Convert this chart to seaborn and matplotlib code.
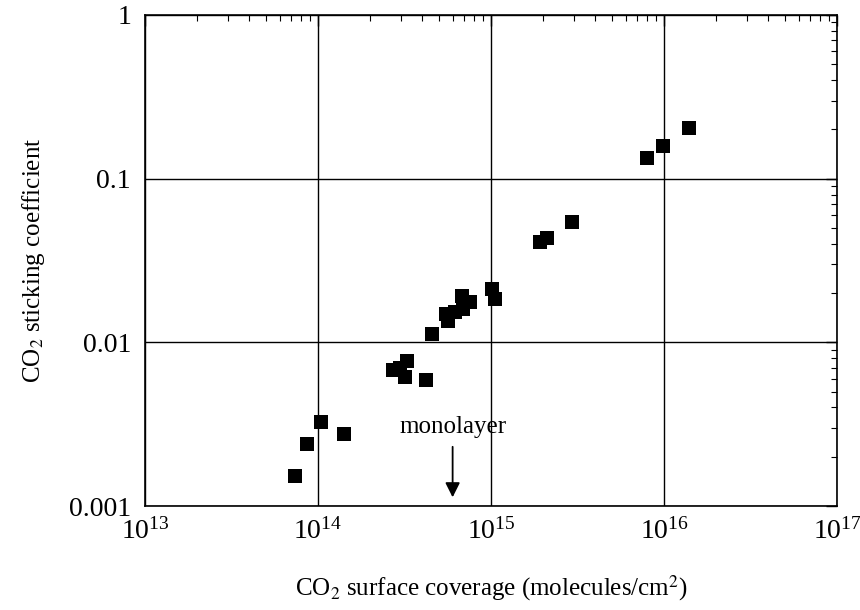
import numpy as np
import pandas as pd
import matplotlib
matplotlib.use("Agg")
import matplotlib.pyplot as plt
import matplotlib.ticker as mticker
import seaborn as sns

coverage = [7.4e13, 8.6e13, 1.04e14, 1.41e14,
            2.72e14, 2.98e14, 3.27e14, 3.18e14, 4.21e14,
            4.56e14, 5.64e14, 5.5e14, 6.2e14, 6.8e14, 7.56e14, 6.9e14,
            1.01e15, 1.05e15,
            1.92e15, 2.11e15, 2.94e15,
            7.98e15, 9.87e15, 1.40e16]
sticking = [1.53e-3, 2.4e-3, 3.27e-3, 2.77e-3,
            6.73e-3, 7.0e-3, 7.64e-3, 6.18e-3, 5.85e-3,
            0.0112, 0.0135, 0.0149, 0.0153, 0.0191, 0.0176, 0.0160,
            0.0211, 0.0184,
            0.041, 0.0435, 0.0545,
            0.1346, 0.159, 0.203]
y_ticks = [0.001, 0.01, 0.1, 1]
y_labels = ["0.001", "0.01", "0.1", "1"]
x_ticks = [1e13, 1e14, 1e15, 1e16, 1e17]
monolayer_x = 6e14

sns.set_style("white")
plt.rcParams["font.family"] = ["Liberation Serif", "DejaVu Serif"]
plt.rcParams["mathtext.fontset"] = "stix"
plt.rcParams["text.color"] = "black"
plt.rcParams["axes.labelcolor"] = "black"

df = pd.DataFrame({"coverage": coverage, "sticking": sticking})

fig = plt.figure(figsize=(8.6, 6.1), dpi=100)
ax = fig.add_axes([145/860, 1-506/610, (837-145)/860, (506-15)/610])
sns.scatterplot(data=df, x="coverage", y="sticking", marker="s", s=95,
                color="black", edgecolor="black", linewidth=0, ax=ax, zorder=3)
ax.set_xscale("log")
ax.set_yscale("log")
ax.set_xlim(1e13, 1e17)
ax.set_ylim(1e-3, 1)
ax.set_xticks(x_ticks)
ax.xaxis.set_major_formatter(mticker.LogFormatterSciNotation())
ax.set_yticks(y_ticks)
ax.set_yticklabels(y_labels)
ax.xaxis.set_minor_locator(mticker.LogLocator(base=10, subs=np.arange(2, 10), numticks=20))
ax.yaxis.set_minor_locator(mticker.LogLocator(base=10, subs=np.arange(2, 10), numticks=20))
ax.yaxis.set_minor_formatter(mticker.NullFormatter())
ax.xaxis.set_minor_formatter(mticker.NullFormatter())
ax.grid(True, which="major", color="black", linewidth=1.0)
for sp in ax.spines.values():
    sp.set_color("black")
    sp.set_linewidth(1.2)
ax.tick_params(which="both", direction="in", top=True, right=True, colors="black")
ax.tick_params(which="major", length=8, width=1, labelsize=20, pad=10)
ax.tick_params(axis="x", which="major", pad=9)
ax.tick_params(which="minor", length=4, width=0.8)
ax.set_xlabel("CO$_2$ surface coverage (molecules/cm$^2$)", fontsize=18, labelpad=20)
ax.set_ylabel("CO$_2$ sticking coefficient", fontsize=18, labelpad=16)

ax.annotate("", xy=(monolayer_x, 1.13e-3), xytext=(monolayer_x, 2.3e-3),
            arrowprops=dict(arrowstyle="-|>", color="black", lw=1.3,
                            mutation_scale=22, shrinkA=0, shrinkB=0))
ax.text(monolayer_x, 3.05e-3, "monolayer", fontsize=18, ha="center", va="center")

fig.savefig("out.png", dpi=100)
